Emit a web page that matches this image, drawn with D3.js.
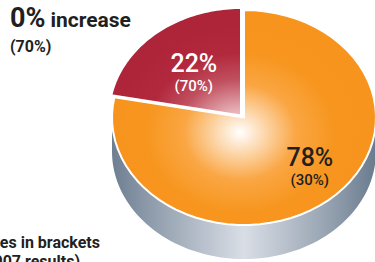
<!DOCTYPE html>
<html>
<head>
<meta charset="utf-8">
<script src="https://cdn.jsdelivr.net/npm/d3@7"></script>
<style>
  body { margin: 0; background: #fff; }
  svg { display: block; font-family: Roboto, "Liberation Sans", sans-serif; }
</style>
</head>
<body>
<div id="chart"></div>
<script>
// data
const categories = ["2008", "other"];
const shares = [22, 78];          // main percentages
const bracketShares = [70, 30];   // values in brackets (previous results)

const width = 375, height = 262;
const cx = 244, cy = 117.5, rx = 132, ry = 107.5, depth = 34;

const svg = d3.select("#chart")
  .append("svg")
    .attr("width", width)
    .attr("height", height);

const defs = svg.append("defs");

// side gradient (grey-blue, lighter in the middle)
const sideGrad = defs.append("linearGradient")
  .attr("id", "side")
  .attr("gradientUnits", "userSpaceOnUse")
  .attr("x1", cx - rx).attr("x2", cx + rx).attr("y1", 0).attr("y2", 0);
[[0, "#6e7f92"], [0.2, "#9aa6b4"], [0.5, "#d9dee6"], [0.8, "#9aa6b4"], [1, "#6a7b8e"]]
  .forEach(s => sideGrad.append("stop").attr("offset", s[0]).attr("stop-color", s[1]));

// top face gradients
const orangeStops = [[0, "#ffffff"], [0.12, "#fde6cc"], [0.45, "#faa643"], [0.75, "#f7961f"], [1, "#f7941d"]];
const redStops = [[0, "#f8e4e6"], [0.2, "#e7b3b8"], [0.5, "#c0505f"], [0.75, "#b2283c"], [1, "#ae2438"]];
[redStops, orangeStops].forEach((stops, i) => {
  const g = defs.append("radialGradient")
    .attr("id", "top" + i)
    .attr("gradientUnits", "userSpaceOnUse")
    .attr("cx", cx - 4).attr("cy", cy + 15).attr("r", 125)
    .attr("gradientTransform", `translate(${cx - 4},${cy + 15}) scale(1,0.85) translate(${-(cx - 4)},${-(cy + 15)})`);
  stops.forEach(s => g.append("stop").attr("offset", s[0]).attr("stop-color", s[1]));
});

// pie layout: red slice ends at 12 o'clock
const start = -2 * Math.PI * shares[0] / d3.sum(shares);
const pie = d3.pie().sort(null)
  .startAngle(start)
  .endAngle(start + 2 * Math.PI);
const arcs = pie(shares);

const ex = (a, ox = 0) => cx + ox + rx * Math.sin(a);
const ey = (a, oy = 0) => cy + oy - ry * Math.cos(a);

function slicePath(d, ox, oy) {
  const p = d3.path();
  p.moveTo(cx + ox, cy + oy);
  const n = 60;
  for (let k = 0; k <= n; k++) {
    const a = d.startAngle + (d.endAngle - d.startAngle) * k / n;
    p.lineTo(ex(a, ox), ey(a, oy));
  }
  p.closePath();
  return p.toString();
}

// side wall (front half)
const side = d3.path();
const n = 80;
for (let k = 0; k <= n; k++) {
  const a = Math.PI / 2 + Math.PI * k / n;
  k === 0 ? side.moveTo(ex(a), ey(a)) : side.lineTo(ex(a), ey(a));
}
for (let k = n; k >= 0; k--) {
  const a = Math.PI / 2 + Math.PI * k / n;
  side.lineTo(ex(a), ey(a) + depth);
}
side.closePath();
svg.append("path").attr("d", side.toString()).attr("fill", "url(#side)");

// top slices; the red one is pulled out slightly
const offsets = [[-3, -2], [0, 0]];
svg.selectAll("path.slice")
  .data(arcs)
  .join("path")
    .attr("class", "slice")
    .attr("d", (d, i) => slicePath(d, offsets[i][0], offsets[i][1]))
    .attr("fill", (d, i) => `url(#top${i})`)
    .attr("stroke", "#fff")
    .attr("stroke-width", 2)
    .attr("stroke-linejoin", "round");

// labels
const labelR = [0.62, 0.64];
const nudge = [[2, 0], [12, -11]];
const textColor = ["#ffffff", "#231f20"];
const labels = svg.selectAll("g.label")
  .data(arcs)
  .join("g")
    .attr("class", "label")
    .attr("transform", (d, i) => {
      const a = (d.startAngle + d.endAngle) / 2;
      const x = cx + labelR[i] * rx * Math.sin(a) + nudge[i][0];
      const y = cy - labelR[i] * ry * Math.cos(a) + nudge[i][1];
      return `translate(${x},${y})`;
    })
    .attr("text-anchor", "middle")
    .attr("fill", (d, i) => textColor[i])
    .attr("font-weight", 500);
labels.append("text")
  .attr("y", 6)
  .attr("font-size", 25)
  .text((d, i) => shares[i] + "%");
labels.append("text")
  .attr("y", 25)
  .attr("font-size", 15)
  .text((d, i) => "(" + bracketShares[i] + "%)");

// headline top left
const head = svg.append("text").attr("x", 10).attr("y", 27).attr("fill", "#231f20").attr("font-weight", "bold");
head.append("tspan").attr("font-size", 27).text("0%");
head.append("tspan").attr("font-size", 21).attr("dx", 5).text("increase");
svg.append("text").attr("x", 10).attr("y", 52).attr("font-size", 16).attr("font-weight", "bold")
  .attr("fill", "#231f20").text("(70%)");

// footnote bottom left (partly cut off, as in the original)
svg.append("text").attr("x", 100).attr("y", 248).attr("text-anchor", "end")
  .attr("font-size", 16).attr("font-weight", "bold").attr("fill", "#231f20")
  .text("Figures in brackets");
svg.append("text").attr("x", 80).attr("y", 267).attr("text-anchor", "end")
  .attr("font-size", 16).attr("font-weight", "bold").attr("fill", "#231f20")
  .text("(2007 results)");
</script>
</body>
</html>
